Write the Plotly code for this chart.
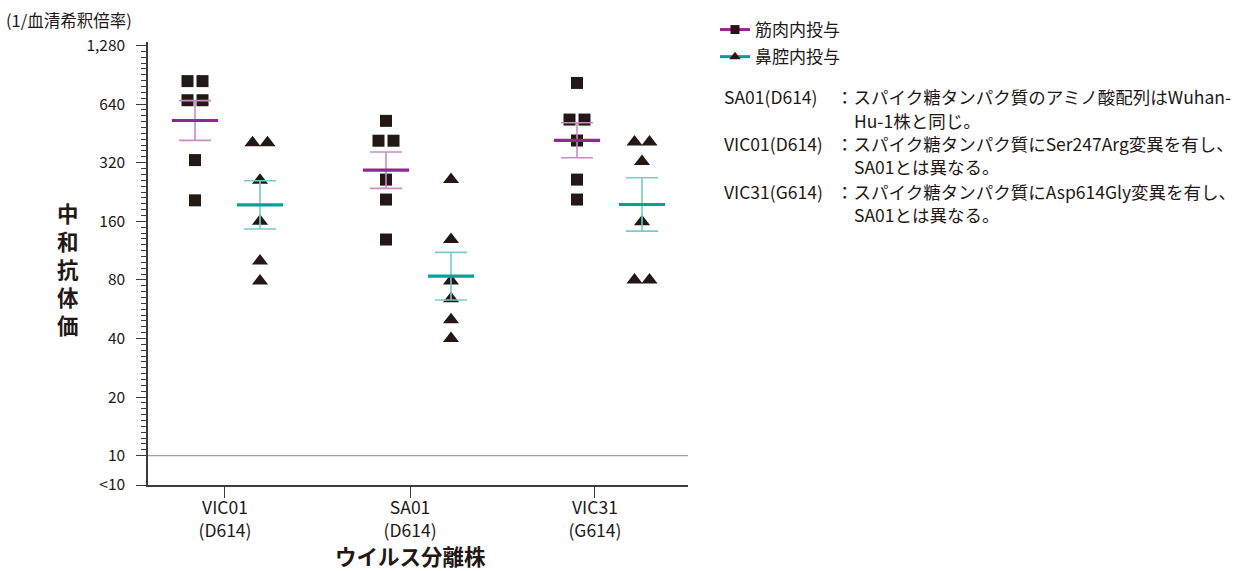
import math
import plotly.graph_objects as go

# Virus strains on the x axis
strain_labels = ["VIC01<br>(D614)", "SA01<br>(D614)", "VIC31<br>(G614)"]

# Neutralizing antibody titers (1/serum dilution), one value per animal
im_vic01 = [840, 840, 670, 670, 330, 205]
im_sa01 = [525, 415, 415, 262, 207, 129]
im_vic31 = [822, 533, 533, 416, 262, 207]
in_vic01 = [405, 405, 260, 160, 100, 79]
in_sa01 = [262, 129, 79, 64, 50, 40]
in_vic31 = [409, 409, 325, 159, 80, 80]

route_names = ["筋肉内投与", "鼻腔内投与"]

y_tick_vals = [10 / math.sqrt(2), 10, 20, 40, 80, 160, 320, 640, 1280]
y_tick_text = ["<10", "10", "20", "40", "80", "160", "320", "640", "1,280"]

note_heads = ["SA01(D614)", "VIC01(D614)", "VIC31(G614)"]
note_bodies = [
    ["スパイク糖タンパク質のアミノ酸配列はWuhan-", "Hu-1株と同じ。"],
    ["スパイク糖タンパク質にSer247Arg変異を有し、", "SA01とは異なる。"],
    ["スパイク糖タンパク質にAsp614Gly変異を有し、", "SA01とは異なる。"],
]

# ---- styling -------------------------------------------------------------
FONT = "Noto Sans CJK JP, Noto Sans, sans-serif"
INK = "#231815"
AXIS = "#3e3a39"
PURPLE = "#93268f"
PURPLE_LIGHT = "#c98cc5"
TEAL = "#00a199"
TEAL_LIGHT = "#74cdc7"

W, H = 1255, 571
PLOT_L, PLOT_R, PLOT_T, PLOT_B = 148, 688, 42, 485

STEP_PX = 191          # distance between strain groups
ROUTE_OFFSET = 65 / STEP_PX
DUP_SPREAD = 15 / STEP_PX
tick_pos = [0.157, 1.126, 2.094]


def px_x(px):
    return (px - PLOT_L) / (PLOT_R - PLOT_L)


def px_y(py):
    return (PLOT_B - py) / (PLOT_B - PLOT_T)


def spread(center, values):
    """Place equal values side by side around the group center."""
    xs = []
    for i, v in enumerate(values):
        same = [j for j, w in enumerate(values) if w == v]
        k = same.index(i)
        xs.append(center + (k - (len(same) - 1) / 2) * DUP_SPREAD)
    return xs


def geo_stats(values):
    logs = [math.log(v) for v in values]
    n = len(logs)
    m = sum(logs) / n
    sd = math.sqrt(sum((l - m) ** 2 for l in logs) / (n - 1))
    sem = sd / math.sqrt(n)
    return math.exp(m), math.exp(m + sem), math.exp(m - sem)


routes = [
    dict(data=[im_vic01, im_sa01, im_vic31], offset=0.0, symbol="square", size=12,
         dark=PURPLE, light=PURPLE_LIGHT),
    dict(data=[in_vic01, in_sa01, in_vic31], offset=ROUTE_OFFSET, symbol="triangle-up", size=14,
         dark=TEAL, light=TEAL_LIGHT),
]

fig = go.Figure()

# individual animals
for r in routes:
    xs, ys = [], []
    for i, vals in enumerate(r["data"]):
        xs += spread(i + r["offset"], vals)
        ys += vals
    fig.add_trace(go.Scatter(
        x=xs, y=ys, mode="markers", showlegend=False, hoverinfo="y",
        marker=dict(symbol=r["symbol"], size=r["size"], color=INK, line=dict(width=0)),
    ))

# geometric mean with SEM
for r in routes:
    xs, gm, up, lo = [], [], [], []
    for i, vals in enumerate(r["data"]):
        g, u, l = geo_stats(vals)
        xs.append(i + r["offset"])
        gm.append(g)
        up.append(u - g)
        lo.append(g - l)
    fig.add_trace(go.Scatter(
        x=xs, y=gm, mode="markers", showlegend=False,
        marker=dict(symbol="line-ew", size=33, color=r["dark"],
                    line=dict(color=r["dark"], width=3.2)),
        error_y=dict(type="data", array=up, arrayminus=lo, symmetric=False,
                     color=r["light"], thickness=1.6, width=16),
    ))

# legend entries
for r, name in zip(routes, route_names):
    fig.add_trace(go.Scatter(
        x=[None], y=[None], mode="lines+markers", name=name, legendgroup=name,
        line=dict(color=r["dark"], width=3),
        marker=dict(symbol=r["symbol"], size=9 if r["symbol"] == "square" else 10, color=INK),
    ))

y_top = 1280 * 2 ** (3.5 / 58.6)
minor_vals = [10 * 2 ** (k / 10) for k in range(1, 70) if k % 10 != 0]

fig.update_layout(
    width=W, height=H,
    margin=dict(l=PLOT_L, r=W - PLOT_R, t=PLOT_T, b=H - PLOT_B, pad=0),
    paper_bgcolor="white", plot_bgcolor="white",
    font=dict(family=FONT, color=INK),
    legend=dict(x=px_x(715), y=px_y(12), xanchor="left", yanchor="top",
                font=dict(size=17, color=INK), itemwidth=30,
                bgcolor="rgba(0,0,0,0)", tracegroupgap=2),
    xaxis=dict(
        range=[(PLOT_L - 195) / STEP_PX, (PLOT_R - 195) / STEP_PX],
        tickvals=tick_pos, ticktext=strain_labels,
        tickfont=dict(size=17.5, color=INK, family=FONT),
        ticks="outside", ticklen=11, tickwidth=1.2, tickcolor=AXIS,
        ticklabelstandoff=-5,
        showline=True, linecolor=AXIS, linewidth=1.5,
        showgrid=False, zeroline=False, fixedrange=True,
    ),
    yaxis=dict(
        type="log",
        range=[math.log10(10 / math.sqrt(2)), math.log10(y_top)],
        tickvals=y_tick_vals, ticktext=y_tick_text,
        tickfont=dict(size=15.5, color=INK, family=FONT),
        ticks="outside", ticklen=10, tickwidth=1.2, tickcolor=AXIS,
        ticklabelstandoff=8,
        minor=dict(tickvals=minor_vals, ticks="outside", ticklen=5,
                   tickwidth=1, tickcolor=AXIS, showgrid=False),
        showline=True, linecolor=AXIS, linewidth=1.5,
        showgrid=False, zeroline=False, fixedrange=True,
    ),
)

# reference line at titer 10
fig.add_shape(type="line", xref="x domain", x0=0, x1=1, yref="y", y0=10, y1=10,
              line=dict(color="#a0a0a0", width=1.2), layer="below")

# axis titles
fig.add_annotation(text="(1/血清希釈倍率)", xref="paper", yref="paper",
                   x=px_x(4), y=px_y(20), xanchor="left", yanchor="middle",
                   showarrow=False, font=dict(size=16.5, color=INK))
fig.add_annotation(text="<b>" + "<br>".join("中和抗体価") + "</b>", xref="paper", yref="paper",
                   x=px_x(68), y=px_y(268.5), xanchor="center", yanchor="middle",
                   showarrow=False, font=dict(size=21.5, color=INK))
fig.add_annotation(text="<b>ウイルス分離株</b>", xref="paper", yref="paper",
                   x=px_x(410), y=px_y(555.5), xanchor="center", yanchor="middle",
                   showarrow=False, font=dict(size=21.5, color=INK))

# strain notes
line_y = [96.5, 120.5, 143.5, 166.5, 191.5, 215]
for n, (head, body) in enumerate(zip(note_heads, note_bodies)):
    y0 = line_y[2 * n]
    y1 = line_y[2 * n + 1]
    fig.add_annotation(text=head, xref="paper", yref="paper", x=px_x(722), y=px_y(y0),
                       xanchor="left", yanchor="middle", showarrow=False,
                       font=dict(size=17.5, color=INK))
    fig.add_annotation(text="：" + body[0], xref="paper", yref="paper", x=px_x(834), y=px_y(y0),
                       xanchor="left", yanchor="middle", showarrow=False,
                       font=dict(size=17.5, color=INK))
    fig.add_annotation(text=body[1], xref="paper", yref="paper", x=px_x(852), y=px_y(y1),
                       xanchor="left", yanchor="middle", showarrow=False,
                       font=dict(size=17.5, color=INK))

fig.write_html("out.html")
